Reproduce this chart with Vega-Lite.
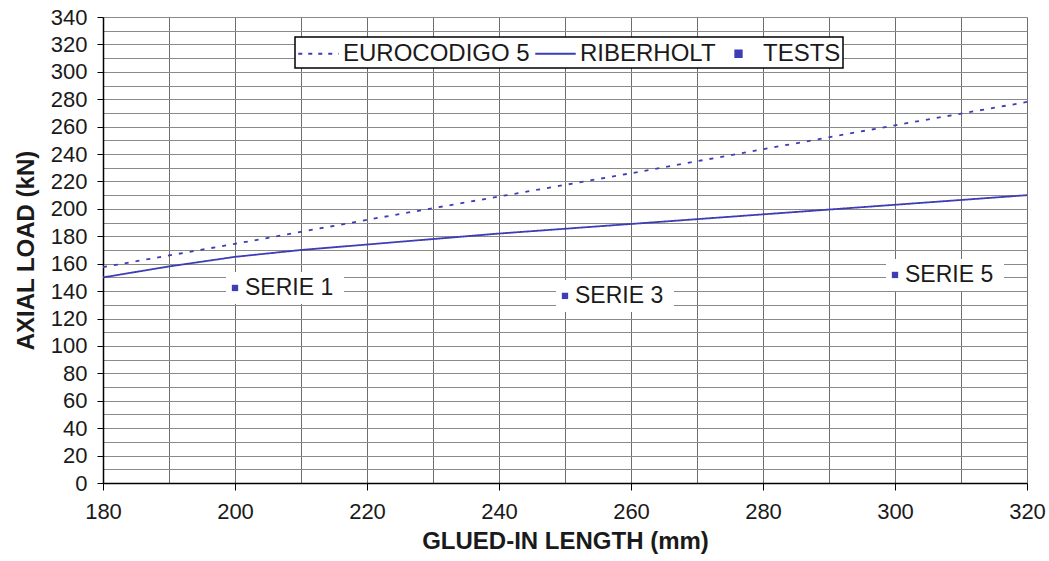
{
  "$schema": "https://vega.github.io/schema/vega-lite/v6.json",
  "width": 924,
  "height": 466,
  "autosize": {"type": "none"},
  "padding": {"left": 103, "top": 17, "right": 22, "bottom": 78},
  "background": "white",
  "config": {
    "font": "Liberation Sans",
    "view": {"stroke": null},
    "axis": {"labelColor": "#1a1a1a", "titleColor": "#1a1a1a", "labelFont": "Liberation Sans", "titleFont": "Liberation Sans"}
  },
  "datasets": {
    "curves": [
      {"series": "EUROCODIGO 5", "length": 180, "load": 157.5},
      {"series": "EUROCODIGO 5", "length": 200, "load": 174.5},
      {"series": "EUROCODIGO 5", "length": 220, "load": 192},
      {"series": "EUROCODIGO 5", "length": 240, "load": 209},
      {"series": "EUROCODIGO 5", "length": 260, "load": 226},
      {"series": "EUROCODIGO 5", "length": 280, "load": 243.5},
      {"series": "EUROCODIGO 5", "length": 300, "load": 261},
      {"series": "EUROCODIGO 5", "length": 320, "load": 278},
      {"series": "RIBERHOLT", "length": 180, "load": 150},
      {"series": "RIBERHOLT", "length": 190, "load": 158},
      {"series": "RIBERHOLT", "length": 200, "load": 165},
      {"series": "RIBERHOLT", "length": 210, "load": 170},
      {"series": "RIBERHOLT", "length": 220, "load": 174},
      {"series": "RIBERHOLT", "length": 230, "load": 178},
      {"series": "RIBERHOLT", "length": 240, "load": 182},
      {"series": "RIBERHOLT", "length": 250, "load": 185.5},
      {"series": "RIBERHOLT", "length": 260, "load": 189},
      {"series": "RIBERHOLT", "length": 270, "load": 192.5},
      {"series": "RIBERHOLT", "length": 280, "load": 196},
      {"series": "RIBERHOLT", "length": 290, "load": 199.5},
      {"series": "RIBERHOLT", "length": 300, "load": 203},
      {"series": "RIBERHOLT", "length": 310, "load": 206.5},
      {"series": "RIBERHOLT", "length": 320, "load": 210}
    ],
    "tests": [
      {"series": "TESTS", "label": "SERIE 1", "length": 200, "load": 142.3},
      {"series": "TESTS", "label": "SERIE 3", "length": 250, "load": 136.5},
      {"series": "TESTS", "label": "SERIE 5", "length": 300, "load": 151.8}
    ]
  },
  "encoding": {
    "x": {
      "field": "length",
      "type": "quantitative",
      "scale": {"domain": [180, 320], "nice": false, "zero": false},
      "axis": {
        "title": "GLUED-IN LENGTH (mm)",
        "values": [180, 190, 200, 210, 220, 230, 240, 250, 260, 270, 280, 290, 300, 310, 320],
        "labelExpr": "datum.value % 20 === 0 ? datum.label : ''",
        "labelFontSize": 22,
        "labelPadding": 11,
        "labelFlush": false,
        "labelOverlap": false,
        "tickSize": 7,
        "tickColor": "black",
        "tickOpacity": {"condition": {"test": "datum.value % 20 === 0", "value": 1}, "value": 0},
        "domainColor": "black",
        "domainWidth": 1.5,
        "grid": true,
        "gridColor": "#6e6e6e",
        "gridWidth": 1,
        "titleFontSize": 24,
        "titleFontWeight": "bold",
        "titlePadding": 7
      }
    },
    "y": {
      "field": "load",
      "type": "quantitative",
      "scale": {"domain": [0, 340], "nice": false},
      "axis": {
        "title": "AXIAL LOAD (kN)",
        "values": [0, 10, 20, 30, 40, 50, 60, 70, 80, 90, 100, 110, 120, 130, 140, 150, 160, 170, 180, 190, 200, 210, 220, 230, 240, 250, 260, 270, 280, 290, 300, 310, 320, 330, 340],
        "labelExpr": "datum.value % 20 === 0 ? datum.label : ''",
        "labelFontSize": 22,
        "labelPadding": 10,
        "labelFlush": false,
        "labelOverlap": false,
        "tickSize": 6,
        "tickColor": "black",
        "tickOpacity": {"condition": {"test": "datum.value % 20 === 0", "value": 1}, "value": 0},
        "domainColor": "black",
        "domainWidth": 1.5,
        "grid": true,
        "gridColor": "#8a8a8a",
        "gridWidth": 1,
        "titleFontSize": 24,
        "titleFontWeight": "bold",
        "titlePadding": 12
      }
    }
  },
  "layer": [
    {
      "data": {"name": "tests"},
      "mark": {"type": "point", "shape": "M-0.18,-0.32L2.18,-0.32L2.18,0.32L-0.18,0.32Z", "size": 10000, "filled": true, "fill": "white", "opacity": 1, "strokeWidth": 0}
    },
    {
      "data": {"name": "curves"},
      "mark": {"type": "line", "strokeWidth": 1.8},
      "encoding": {
        "color": {
          "field": "series",
          "type": "nominal",
          "scale": {"domain": ["EUROCODIGO 5", "RIBERHOLT", "TESTS"], "range": ["#3d3db5", "#3d3db5", "#3d3db5"]},
          "legend": {
            "title": null,
            "orient": "none",
            "legendX": 192,
            "legendY": 20,
            "direction": "horizontal",
            "fillColor": "white",
            "strokeColor": "black",
            "padding": 2,
            "labelFontSize": 24,
            "labelLimit": 400,
            "labelColor": "#1a1a1a",
            "labelFont": "Liberation Sans",
            "columnPadding": 1,
            "labelOffset": 10,
            "symbolOffset": 7,
            "symbolStrokeWidth": 2,
            "symbolSize": 729,
            "symbolType": "stroke",
            "encode": {
              "legend": {"update": {"strokeWidth": {"value": 1.5}}},
              "symbols": {
                "update": {
                  "shape": {"signal": "datum.value === 'TESTS' ? 'square' : 'M-1.5,0L1.5,0'"},
                  "size": {"signal": "datum.value === 'TESTS' ? 40 : 729"},
                  "strokeDash": {"signal": "datum.value === 'EUROCODIGO 5' ? [4, 6] : [1, 0]"},
                  "fill": {"signal": "datum.value === 'TESTS' ? '#3d3db5' : 'transparent'"},
                  "stroke": {"value": "#3d3db5"},
                  "opacity": {"value": 1}
                }
              }
            }
          }
        },
        "strokeDash": {
          "field": "series",
          "type": "nominal",
          "scale": {"domain": ["EUROCODIGO 5", "RIBERHOLT"], "range": [[4, 7], [1, 0]]},
          "legend": null
        },
        "strokeWidth": {
          "field": "series",
          "type": "nominal",
          "scale": {"domain": ["EUROCODIGO 5", "RIBERHOLT"], "range": [2.3, 1.6]},
          "legend": null
        }
      }
    },
    {
      "data": {"name": "tests"},
      "mark": {"type": "point", "shape": "square", "filled": true, "size": 40, "opacity": 1},
      "encoding": {
        "color": {"field": "series", "type": "nominal"}
      }
    },
    {
      "data": {"name": "tests"},
      "mark": {"type": "text", "align": "left", "baseline": "middle", "dx": 10, "fontSize": 23, "color": "#1a1a1a", "font": "Liberation Sans"},
      "encoding": {
        "text": {"field": "label", "type": "nominal"}
      }
    }
  ]
}
